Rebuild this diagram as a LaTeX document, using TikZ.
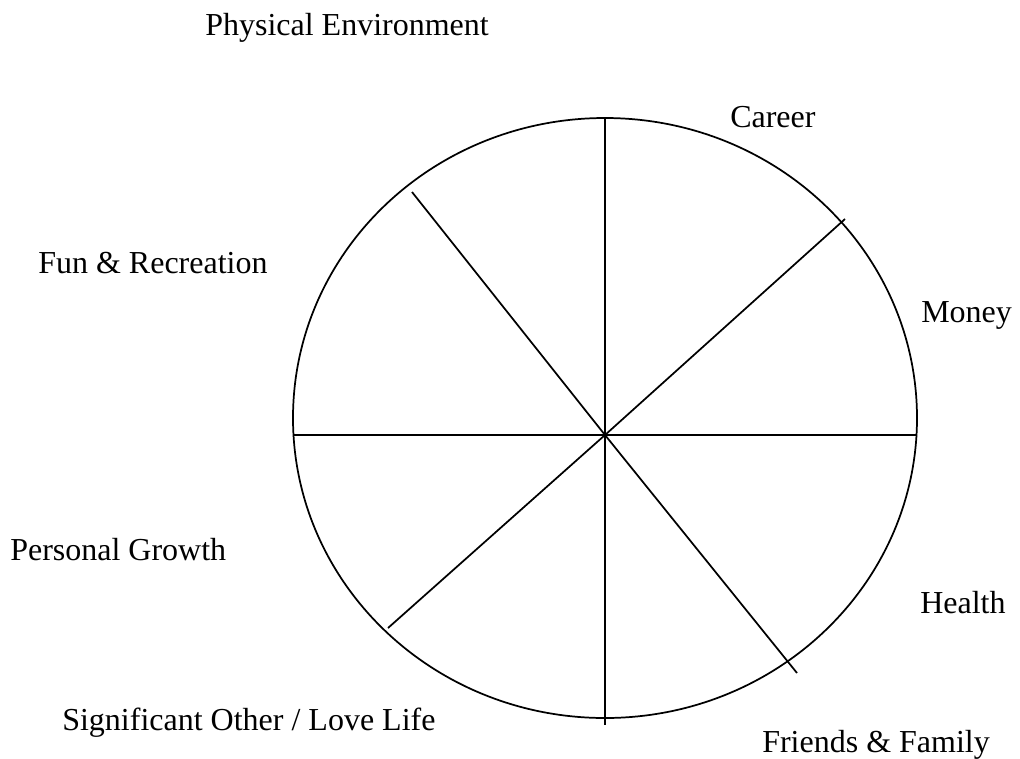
\documentclass[tikz,border=0pt]{standalone}
\usepackage{fontspec}
\setmainfont{Liberation Serif}

\begin{document}
\begin{tikzpicture}[
	x=0.75pt, y=-0.75pt,
	font=\fontsize{24}{28}\selectfont,
	wheel/.style={draw, line width=1.3pt},
	spoke/.style={line width=1.3pt},
	area/.style={anchor=base west, inner sep=0pt}
	]
	
	\useasboundingbox (0,0) rectangle (1020,758);
	
	% Wheel
	\draw[wheel] (605,418) ellipse [x radius=312, y radius=300];
	\coordinate (hub) at (605,435);
	
	% Spoke ends
	\coordinate (top) at (605,118);
	\coordinate (bottom) at (605,725);
	\coordinate (left) at (293,435);
	\coordinate (right) at (916,435);
	\coordinate (topleft) at (412,192);
	\coordinate (bottomright) at (797,673);
	\coordinate (topright) at (845,219);
	\coordinate (bottomleft) at (388,628);
	
	% Spokes
	\draw[spoke] (top) -- (hub) -- (bottom);
	\draw[spoke] (left) -- (hub) -- (right);
	\draw[spoke] (topleft) -- (hub) -- (bottomright);
	\draw[spoke] (topright) -- (hub) -- (bottomleft);
	
	% Areas of life
	\node[area] (env) at (205,35) {Physical Environment};
	\node[area] (career) at (730,127) {Career};
	\node[area] (fun) at (38,273) {Fun \& Recreation};
	\node[area] (money) at (921,322) {Money};
	\node[area] (growth) at (10,560) {Personal Growth};
	\node[area] (health) at (920,613) {Health};
	\node[area] (love) at (62,730) {Significant Other / Love Life};
	\node[area] (friends) at (762,752) {Friends \& Family};
	
\end{tikzpicture}
\end{document}
